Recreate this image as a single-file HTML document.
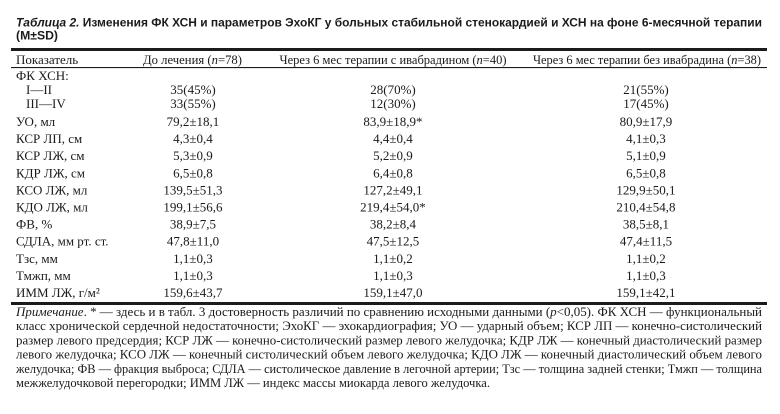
<!DOCTYPE html>
<html>
<head>
<meta charset="utf-8">
<style>
  html,body{margin:0;padding:0;background:#fff;}
  svg{display:block;}
  .s{font-family:"Liberation Serif","Noto Serif CJK SC",serif;font-size:13px;fill:#1c1a1b;}
  .t{font-family:"Liberation Sans","Noto Sans CJK SC",sans-serif;font-size:12px;font-weight:bold;fill:#1c1a1b;}
  .c{text-anchor:middle;}
</style>
</head>
<body>
<svg width="780" height="414" viewBox="0 0 780 414" xmlns="http://www.w3.org/2000/svg">
  <rect width="780" height="414" fill="#fff"/>
  <!-- Title -->
  <text class="t" x="16" y="26.5" textLength="746" lengthAdjust="spacingAndGlyphs"><tspan font-style="italic">Таблица 2.</tspan> Изменения ФК ХСН и параметров ЭхоКГ у больных стабильной стенокардией и ХСН на фоне 6-месячной терапии</text>
  <text class="t" x="16" y="39.5" textLength="42" lengthAdjust="spacingAndGlyphs">(M±SD)</text>

  <!-- Rules -->
  <rect x="11" y="48" width="756" height="3" fill="#1c1a1b"/>
  <rect x="11" y="67" width="756" height="1.1" fill="#1c1a1b"/>
  <rect x="11" y="302" width="756" height="3" fill="#1c1a1b"/>

  <!-- Header -->
  <text class="s" x="16" y="64">Показатель</text>
  <text class="s" x="143" y="64" textLength="99" lengthAdjust="spacingAndGlyphs">До лечения (<tspan font-style="italic">n</tspan>=78)</text>
  <text class="s" x="279.5" y="64" textLength="227" lengthAdjust="spacingAndGlyphs">Через 6 мес терапии с ивабрадином (<tspan font-style="italic">n</tspan>=40)</text>
  <text class="s" x="533" y="64" textLength="228" lengthAdjust="spacingAndGlyphs">Через 6 мес терапии без ивабрадина (<tspan font-style="italic">n</tspan>=38)</text>

  <!-- Rows -->
  <text class="s" x="16" y="80">ФК ХСН:</text>

  <text class="s" x="26" y="94">I—II</text>
  <text class="s c" x="193" y="94">35(45%)</text>
  <text class="s c" x="393" y="94">28(70%)</text>
  <text class="s c" x="646" y="94">21(55%)</text>

  <text class="s" x="26" y="108">III—IV</text>
  <text class="s c" x="193" y="108">33(55%)</text>
  <text class="s c" x="393" y="108">12(30%)</text>
  <text class="s c" x="646" y="108">17(45%)</text>

  <text class="s" x="16" y="126">УО, мл</text>
  <text class="s c" x="193" y="126">79,2±18,1</text>
  <text class="s c" x="393" y="126">83,9±18,9*</text>
  <text class="s c" x="646" y="126">80,9±17,9</text>

  <text class="s" x="16" y="143.1">КСР ЛП, см</text>
  <text class="s c" x="193" y="143.1">4,3±0,4</text>
  <text class="s c" x="393" y="143.1">4,4±0,4</text>
  <text class="s c" x="646" y="143.1">4,1±0,3</text>

  <text class="s" x="16" y="160.2">КСР ЛЖ, см</text>
  <text class="s c" x="193" y="160.2">5,3±0,9</text>
  <text class="s c" x="393" y="160.2">5,2±0,9</text>
  <text class="s c" x="646" y="160.2">5,1±0,9</text>

  <text class="s" x="16" y="177.3">КДР ЛЖ, см</text>
  <text class="s c" x="193" y="177.3">6,5±0,8</text>
  <text class="s c" x="393" y="177.3">6,4±0,8</text>
  <text class="s c" x="646" y="177.3">6,5±0,8</text>

  <text class="s" x="16" y="194.4">КСО ЛЖ, мл</text>
  <text class="s c" x="193" y="194.4">139,5±51,3</text>
  <text class="s c" x="393" y="194.4">127,2±49,1</text>
  <text class="s c" x="646" y="194.4">129,9±50,1</text>

  <text class="s" x="16" y="211.5">КДО ЛЖ, мл</text>
  <text class="s c" x="193" y="211.5">199,1±56,6</text>
  <text class="s c" x="393" y="211.5">219,4±54,0*</text>
  <text class="s c" x="646" y="211.5">210,4±54,8</text>

  <text class="s" x="16" y="228.6">ФВ, %</text>
  <text class="s c" x="193" y="228.6">38,9±7,5</text>
  <text class="s c" x="393" y="228.6">38,2±8,4</text>
  <text class="s c" x="646" y="228.6">38,5±8,1</text>

  <text class="s" x="16" y="245.7">СДЛА, мм рт. ст.</text>
  <text class="s c" x="193" y="245.7">47,8±11,0</text>
  <text class="s c" x="393" y="245.7">47,5±12,5</text>
  <text class="s c" x="646" y="245.7">47,4±11,5</text>

  <text class="s" x="16" y="262.8">Тзс, мм</text>
  <text class="s c" x="193" y="262.8">1,1±0,3</text>
  <text class="s c" x="393" y="262.8">1,1±0,2</text>
  <text class="s c" x="646" y="262.8">1,1±0,2</text>

  <text class="s" x="16" y="279.9">Тмжп, мм</text>
  <text class="s c" x="193" y="279.9">1,1±0,3</text>
  <text class="s c" x="393" y="279.9">1,1±0,3</text>
  <text class="s c" x="646" y="279.9">1,1±0,3</text>

  <text class="s" x="16" y="297">ИММ ЛЖ, г/м²</text>
  <text class="s c" x="193" y="297">159,6±43,7</text>
  <text class="s c" x="393" y="297">159,1±47,0</text>
  <text class="s c" x="646" y="297">159,1±42,1</text>

  <!-- Notes -->
  <text class="s" x="16" y="316" textLength="746" lengthAdjust="spacingAndGlyphs"><tspan font-style="italic">Примечание</tspan>. * — здесь и в табл. 3 достоверность различий по сравнению исходными данными (<tspan font-style="italic">p</tspan>&lt;0,05). ФК ХСН — функциональный</text>
  <text class="s" x="16" y="330.2" textLength="746" lengthAdjust="spacingAndGlyphs">класс хронической сердечной недостаточности; ЭхоКГ — эхокардиография; УО — ударный объем; КСР ЛП — конечно-систолический</text>
  <text class="s" x="16" y="344.4" textLength="746" lengthAdjust="spacingAndGlyphs">размер левого предсердия; КСР ЛЖ — конечно-систолический размер левого желудочка; КДР ЛЖ — конечный диастолический размер</text>
  <text class="s" x="16" y="358.6" textLength="746" lengthAdjust="spacingAndGlyphs">левого желудочка; КСО ЛЖ — конечный систолический объем левого желудочка; КДО ЛЖ — конечный диастолический объем левого</text>
  <text class="s" x="16" y="372.8" textLength="746" lengthAdjust="spacingAndGlyphs">желудочка; ФВ — фракция выброса; СДЛА — систолическое давление в легочной артерии; Тзс — толщина задней стенки; Тмжп — толщина</text>
  <text class="s" x="16" y="387" textLength="474" lengthAdjust="spacingAndGlyphs">межжелудочковой перегородки; ИММ ЛЖ — индекс массы миокарда левого желудочка.</text>
</svg>
</body>
</html>
